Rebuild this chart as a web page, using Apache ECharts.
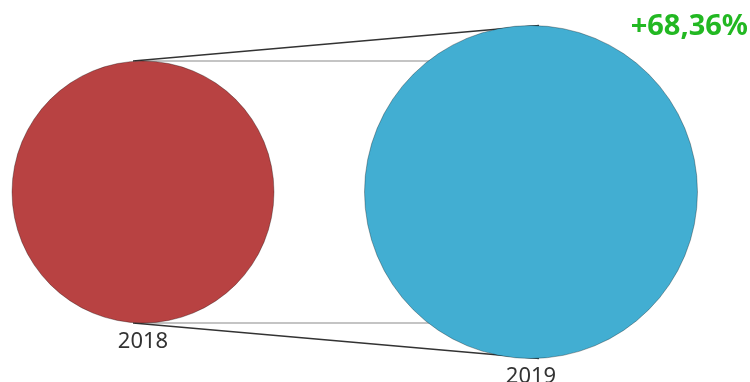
<!DOCTYPE html>
<html>
<head>
    <meta charset="utf-8">
    <title>2018 vs 2019</title>
    <script src="https://cdn.jsdelivr.net/npm/echarts@6/dist/echarts.min.js"></script>
    <style>
        html, body { margin: 0; padding: 0; background: #fff; }
        #chart1 { width: 750px; height: 382px; }
    </style>
</head>
<body>
<div id="chart1"></div>
<script type="text/javascript">
    // data
    var years = ['2018', '2019'];
    var values = [100, 168.36];
    var colors = ['#B84242', '#42AED2'];

    // circle diameter from value (linear between the two sizes seen)
    var sizeRange = [262, 333];
    var vMin = Math.min.apply(null, values), vMax = Math.max.apply(null, values);
    function diam(v) {
        return sizeRange[0] + (v - vMin) / (vMax - vMin) * (sizeRange[1] - sizeRange[0]);
    }

    var change = (values[1] / values[0] - 1) * 100;
    var changeText = (change >= 0 ? '+' : '') + change.toFixed(2).replace('.', ',') + '%';

    var myChart1 = echarts.init(document.getElementById('chart1'));

    myChart1.setOption({
        animation: false,
        grid: { left: 143, right: 219, top: 92, bottom: 90 },
        xAxis: { type: 'category', data: years, boundaryGap: false, show: false },
        yAxis: { type: 'value', min: -1, max: 1, show: false },
        series: [{
            type: 'scatter',
            z: 5,
            data: years.map(function (y, i) {
                return {
                    value: [y, 0, values[i]],
                    symbolSize: diam(values[i]),
                    itemStyle: { color: colors[i], opacity: 1, borderColor: 'rgba(0,0,0,0.3)', borderWidth: 1 }
                };
            }),
            label: {
                show: true,
                position: 'bottom',
                distance: 7,
                formatter: function (p) { return p.value[0]; },
                color: '#333',
                fontFamily: 'Noto Sans',
                fontSize: 22
            },
            emphasis: { disabled: true }
        }]
    });

    // connector lines from the two circles' pixel positions
    var p1 = myChart1.convertToPixel({ seriesIndex: 0 }, [years[0], 0]);
    var p2 = myChart1.convertToPixel({ seriesIndex: 0 }, [years[1], 0]);
    var r1 = diam(values[0]) / 2, r2 = diam(values[1]) / 2;

    var elems = [];
    [-1, 1].forEach(function (s) {
        var y1 = p1[1] + s * r1;
        var y2 = p2[1] + s * r2;
        var dy = y1 - p2[1];
        var xEdge = p2[0] - Math.sqrt(Math.max(0, r2 * r2 - dy * dy));
        elems.push({
            type: 'line', z: 1,
            shape: { x1: p1[0] - 8, y1: y1, x2: xEdge + 4, y2: y1 },
            style: { stroke: '#c4c4c4', lineWidth: 2 }
        });
        elems.push({
            type: 'line', z: 1,
            shape: { x1: p1[0] - 10, y1: y1, x2: p2[0] + 8, y2: y2 },
            style: { stroke: '#333', lineWidth: 1.5 }
        });
    });
    elems.push({
        type: 'text',
        right: 2, top: 12, z: 10,
        style: {
            text: changeText,
            fill: '#22B822',
            font: 'bold 29px "Noto Sans"'
        }
    });
    myChart1.setOption({ graphic: elems });
</script>
</body>
</html>
